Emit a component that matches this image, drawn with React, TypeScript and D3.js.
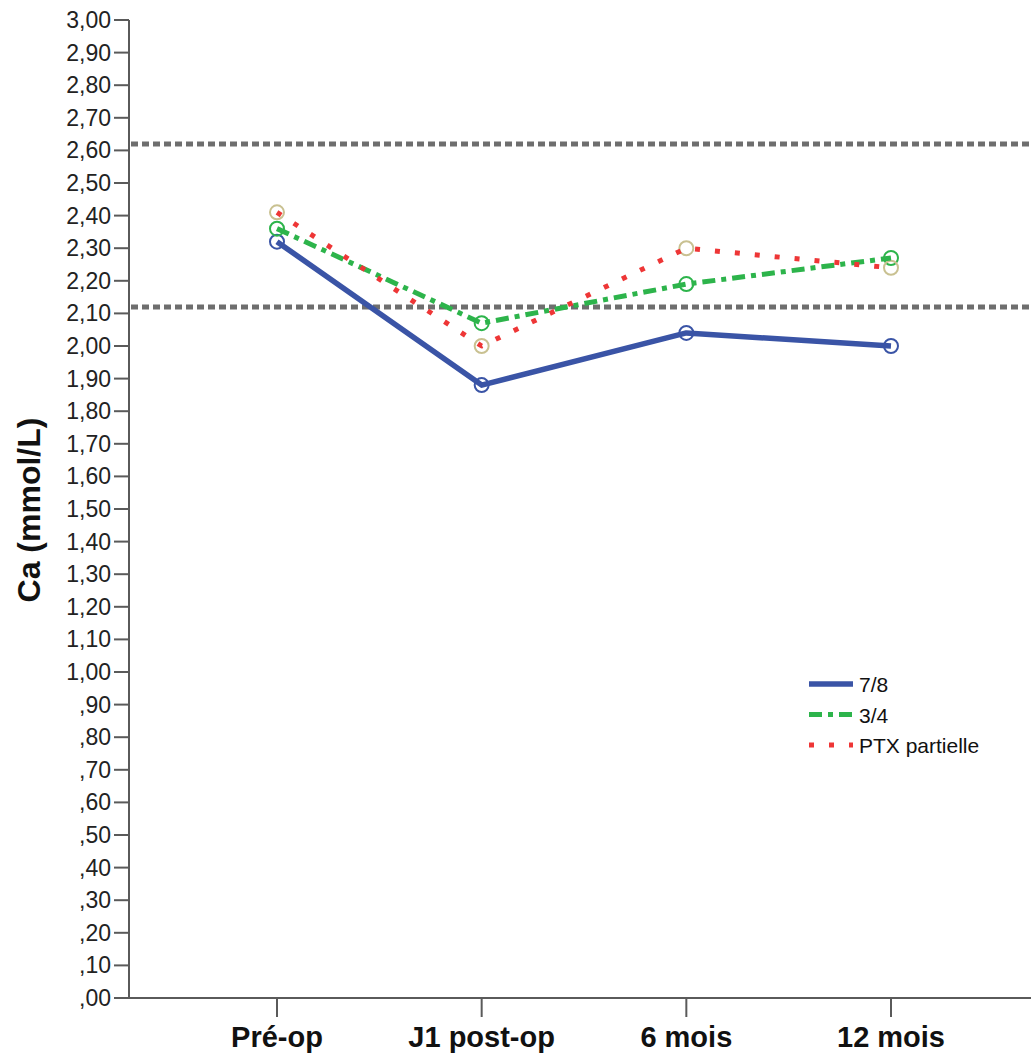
import React from "react";
import * as d3 from "d3";

const categories = ["Pré-op", "J1 post-op", "6 mois", "12 mois"];
const series78 = [2.32, 1.88, 2.04, 2.0];
const series34 = [2.36, 2.07, 2.19, 2.27];
const seriesPTX = [2.41, 2.0, 2.3, 2.24];
const refLines = [2.62, 2.12];
const yTicks = [
  0, 0.1, 0.2, 0.3, 0.4, 0.5, 0.6, 0.7, 0.8, 0.9, 1.0, 1.1, 1.2, 1.3, 1.4, 1.5,
  1.6, 1.7, 1.8, 1.9, 2.0, 2.1, 2.2, 2.3, 2.4, 2.5, 2.6, 2.7, 2.8, 2.9, 3.0,
];
const legendLabels = ["7/8", "3/4", "PTX partielle"];

const W = 1031;
const H = 1055;
const FONT = "'Liberation Sans', Arial, Helvetica, sans-serif";

const fmt = (v: number) => {
  const s = d3.format(".2f")(v).replace(".", ",");
  return s.startsWith("0,") ? s.slice(1) : s;
};

export default function App() {
  const x0 = 129;
  const y = d3.scaleLinear().domain([0, 3]).range([998, 20]);
  const x = d3.scalePoint<string>().domain(categories).range([277, 891]);

  const line = d3
    .line<number>()
    .x((_, i) => x(categories[i]) as number)
    .y((d) => y(d));

  const seriesDefs = [
    { name: legendLabels[0], data: series78, color: "#3a54a6", marker: "#3a54a6", dash: "none", width: 5.5 },
    { name: legendLabels[1], data: series34, color: "#2db44b", marker: "#2db44b", dash: "13,6,5,6", width: 5 },
    { name: legendLabels[2], data: seriesPTX, color: "#ee3636", marker: "#c9c191", dash: "5,15", width: 5 },
  ];

  const axisColor = "#5a5a5a";

  return (
    <svg
      width={W}
      height={H}
      style={{ position: "absolute", left: 0, top: 0, background: "#fff" }}
      fontFamily={FONT}
    >
      <rect x={0} y={0} width={W} height={H} fill="#fff" />

      {/* reference lines */}
      {refLines.map((r) => (
        <line
          key={r}
          x1={x0 + 2}
          x2={W}
          y1={y(r)}
          y2={y(r)}
          stroke="#6e6e6e"
          strokeWidth={5}
          strokeDasharray="7,4"
        />
      ))}

      {/* markers */}
      {seriesDefs.map((s) =>
        s.data.map((v, i) => (
          <circle
            key={s.name + i}
            cx={x(categories[i]) as number}
            cy={y(v)}
            r={7}
            fill="none"
            stroke={s.marker}
            strokeWidth={2}
          />
        ))
      )}

      {/* lines */}
      {seriesDefs.map((s) => (
        <path
          key={s.name}
          d={line(s.data) || ""}
          fill="none"
          stroke={s.color}
          strokeWidth={s.width}
          strokeDasharray={s.dash}
          strokeLinejoin="round"
        />
      ))}

      {/* y axis */}
      <line x1={x0} x2={x0} y1={y(3)} y2={y(0)} stroke={axisColor} strokeWidth={2} />
      {yTicks.map((t) => (
        <g key={t}>
          <line x1={x0 - 15} x2={x0} y1={y(t)} y2={y(t)} stroke={axisColor} strokeWidth={2} />
          <text
            x={111}
            y={y(t) + 8}
            textAnchor="end"
            fontSize={23}
            fill="#222"
          >
            {fmt(t)}
          </text>
        </g>
      ))}

      {/* x axis */}
      <line x1={x0} x2={W} y1={y(0)} y2={y(0)} stroke={axisColor} strokeWidth={2} />
      {categories.map((c) => (
        <g key={c}>
          <line
            x1={x(c) as number}
            x2={x(c) as number}
            y1={y(0)}
            y2={y(0) + 19}
            stroke={axisColor}
            strokeWidth={2}
          />
          <text
            x={x(c) as number}
            y={1047}
            textAnchor="middle"
            fontSize={29}
            fontWeight="bold"
            fill="#111"
          >
            {c}
          </text>
        </g>
      ))}

      {/* y label */}
      <text
        transform={`translate(40, 510) rotate(-90)`}
        textAnchor="middle"
        fontSize={32}
        fontWeight="bold"
        fill="#111"
      >
        Ca (mmol/L)
      </text>

      {/* legend */}
      {seriesDefs.map((s, i) => {
        const ly = 684 + i * 30.5;
        return (
          <g key={"lg" + s.name}>
            <line
              x1={809}
              x2={853}
              y1={ly}
              y2={ly}
              stroke={s.color}
              strokeWidth={s.width}
              strokeDasharray={s.dash}
            />
            <text x={859} y={ly + 8} fontSize={21} fill="#111">
              {s.name}
            </text>
          </g>
        );
      })}
    </svg>
  );
}
